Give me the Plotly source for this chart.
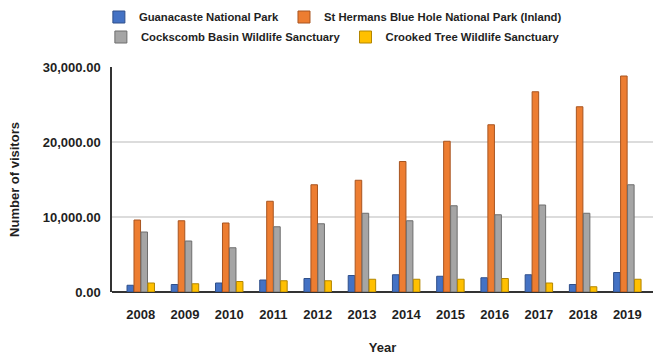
import plotly.graph_objects as go

years = ["2008", "2009", "2010", "2011", "2012", "2013",
         "2014", "2015", "2016", "2017", "2018", "2019"]

guanacaste = [900, 1000, 1200, 1600, 1800, 2200, 2300, 2100, 1900, 2300, 1000, 2600]
st_hermans = [9600, 9500, 9200, 12100, 14300, 14900, 17400, 20100, 22300, 26700, 24700, 28800]
cockscomb = [8000, 6800, 5900, 8700, 9100, 10500, 9500, 11500, 10300, 11600, 10500, 14300]
crooked_tree = [1200, 1100, 1400, 1500, 1500, 1700, 1700, 1700, 1800, 1200, 700, 1700]

series = [
    ("Guanacaste National Park", guanacaste, "#4472c4", "#2f4f8a", "legend"),
    ("St Hermans Blue Hole National Park (Inland)", st_hermans, "#ed7d31", "#a85520", "legend"),
    ("Cockscomb Basin Wildlife Sanctuary", cockscomb, "#a5a5a5", "#6e6e6e", "legend2"),
    ("Crooked Tree Wildlife Sanctuary", crooked_tree, "#ffc000", "#b38600", "legend2"),
]

font_family = "Liberation Sans, Arial, sans-serif"
text_color = "#1f1f1f"

fig = go.Figure()
for name, vals, color, edge, leg in series:
    fig.add_trace(go.Bar(
        x=years, y=vals, name=name, legend=leg,
        marker=dict(color=color, line=dict(color=edge, width=1)),
    ))

legend_style = dict(
    orientation="h", xref="container", yref="container",
    xanchor="center", yanchor="middle", x=0.509,
    font=dict(family=font_family, size=11.3, color=text_color, weight="bold"),
    itemwidth=30, bgcolor="rgba(0,0,0,0)", traceorder="normal",
)

fig.update_layout(
    width=654, height=355,
    margin=dict(l=112, r=1, t=67, b=63, autoexpand=False),
    paper_bgcolor="white", plot_bgcolor="white",
    barmode="group", bargap=0.37, bargroupgap=0.06,
    font=dict(family=font_family, color=text_color),
    legend=dict(y=1 - 17 / 355, **legend_style),
    legend2=dict(y=1 - 37 / 355, **legend_style),
    xaxis=dict(
        type="category", range=[-0.65, 11.58], automargin=False,
        showgrid=False, showline=False, zeroline=False,
        ticks="outside", ticklen=10, tickcolor="rgba(0,0,0,0)",
        tickfont=dict(family=font_family, size=13, color=text_color, weight="bold"),
        title=dict(text="Year", standoff=23,
                   font=dict(family=font_family, size=13, color=text_color, weight="bold")),
    ),
    yaxis=dict(
        range=[0, 30000], tickvals=[0, 10000, 20000, 30000], automargin=False,
        tickformat=",.2f",
        showgrid=True, gridcolor="#dcdcdc", gridwidth=1.5,
        showline=True, linecolor="#333333", linewidth=1.5,
        zeroline=True, zerolinecolor="#333333", zerolinewidth=1.5,
        ticks="outside", ticklen=7, tickcolor="rgba(0,0,0,0)",
        tickfont=dict(family=font_family, size=13, color=text_color, weight="bold"),
        title=dict(text="Number of visitors", standoff=20,
                   font=dict(family=font_family, size=13, color=text_color, weight="bold")),
    ),
)

fig.write_html("out.html")
